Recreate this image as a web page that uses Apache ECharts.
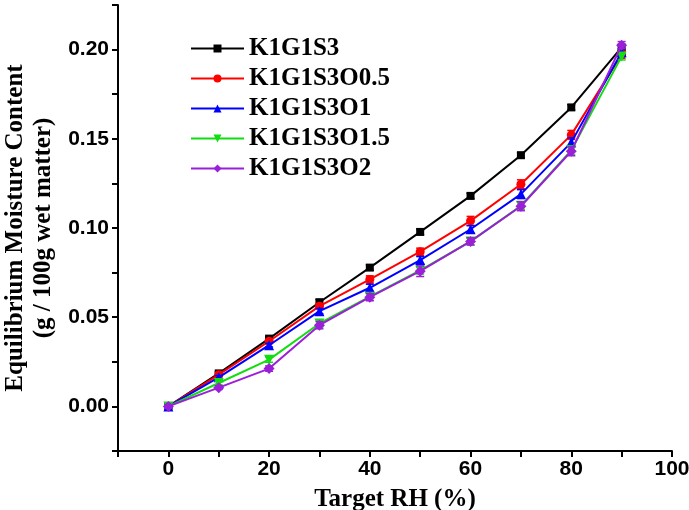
<!DOCTYPE html>
<html>
<head>
<meta charset="utf-8">
<script src="https://cdn.jsdelivr.net/npm/echarts@6/dist/echarts.min.js"></script>
<style>
  html, body { margin: 0; padding: 0; background: #fff; }
  #chart { width: 689px; height: 510px; }
</style>
</head>
<body>
<div id="chart"></div>
<script>
// target RH (%)
const rh = [0, 10, 20, 30, 40, 50, 60, 70, 80, 90];

const seriesNames = ["K1G1S3", "K1G1S3O0.5", "K1G1S3O1", "K1G1S3O1.5", "K1G1S3O2"];

// moisture content (g / 100g wet matter)
const k1g1s3 = [0, 0.0185, 0.0380, 0.0584, 0.0778, 0.0978, 0.1180, 0.1408, 0.1676, 0.2012];
const k1g1s3o05 = [0, 0.0178, 0.0365, 0.0562, 0.0712, 0.0867, 0.1040, 0.1245, 0.1522, 0.1972];
const k1g1s3o1 = [0, 0.0163, 0.0343, 0.0534, 0.0665, 0.0820, 0.0993, 0.1190, 0.1480, 0.1985];
const k1g1s3o15 = [0, 0.0131, 0.0262, 0.0465, 0.0615, 0.0762, 0.0925, 0.1125, 0.1435, 0.1962];
const k1g1s3o2 = [0, 0.0105, 0.0212, 0.0455, 0.0612, 0.0758, 0.0925, 0.1122, 0.1430, 0.2025];

// error bars (+/-)
const err1 = [0.001, 0.001, 0.001, 0.0015, 0.0015, 0.0015, 0.0015, 0.0015, 0.0015, 0.0015];
const err2 = [0.001, 0.001, 0.001, 0.0015, 0.002, 0.002, 0.0025, 0.0025, 0.0025, 0.002];
const err3 = [0.001, 0.001, 0.001, 0.0015, 0.002, 0.002, 0.002, 0.0025, 0.0025, 0.002];
const err4 = [0.001, 0.001, 0.0015, 0.002, 0.002, 0.002, 0.002, 0.002, 0.0025, 0.002];
const err5 = [0.001, 0.001, 0.0015, 0.002, 0.002, 0.003, 0.002, 0.0025, 0.0025, 0.002];

const colors = ["#000000", "#ff0000", "#0000ff", "#11dd11", "#9b1fd8"];
const symbols = ["rect", "circle", "triangle", "path://M0,0 L10,0 L5,9 Z", "diamond"];
const symbolSizes = [8, 9, 10, 10, 11];

const values = [k1g1s3, k1g1s3o05, k1g1s3o1, k1g1s3o15, k1g1s3o2];
const errors = [err1, err2, err3, err4, err5];

const serifBold = { fontFamily: "Liberation Serif", fontWeight: "bold", color: "#000" };
const sansBold = { fontFamily: "Liberation Sans", fontWeight: "bold", color: "#000", fontSize: 21 };

let series = [];
values.forEach((v, i) => {
  series.push({
    name: seriesNames[i],
    type: "line",
    data: rh.map((x, j) => [x, v[j]]),
    symbol: symbols[i],
    symbolSize: symbolSizes[i],
    lineStyle: { width: 2, color: colors[i] },
    itemStyle: { color: colors[i] },
    z: 3 + i,
  });
  // error bars
  series.push({
    type: "custom",
    name: seriesNames[i],
    data: rh.map((x, j) => [x, v[j] - errors[i][j], v[j] + errors[i][j]]),
    renderItem: function (params, api) {
      const lo = api.coord([api.value(0), api.value(1)]);
      const hi = api.coord([api.value(0), api.value(2)]);
      const w = 4;
      const st = { stroke: colors[i], lineWidth: 1.5 };
      return {
        type: "group",
        children: [
          { type: "line", shape: { x1: lo[0], y1: lo[1], x2: hi[0], y2: hi[1] }, style: st },
          { type: "line", shape: { x1: lo[0] - w, y1: lo[1], x2: lo[0] + w, y2: lo[1] }, style: st },
          { type: "line", shape: { x1: hi[0] - w, y1: hi[1], x2: hi[0] + w, y2: hi[1] }, style: st },
        ],
      };
    },
    z: 3 + i,
    silent: true,
  });
});

function isMultiple(v, step) {
  return Math.abs(Math.round(v / step) * step - v) < 1e-6;
}

const chart = echarts.init(document.getElementById("chart"));
chart.setOption({
  animation: false,
  grid: { left: 118, right: 17, top: 5, bottom: 59, outerBoundsMode: "none", containLabel: false },
  legend: {
    data: seriesNames,
    orient: "vertical",
    left: 185,
    top: 31,
    itemWidth: 53,
    itemHeight: 10,
    itemGap: 5,
    textStyle: Object.assign({ fontSize: 25, lineHeight: 22 }, serifBold),
  },
  xAxis: {
    type: "value",
    min: -10,
    max: 100,
    interval: 10,
    name: "Target RH (%)",
    nameLocation: "middle",
    nameGap: 36,
    nameTextStyle: Object.assign({ fontSize: 25 }, serifBold),
    axisLine: { onZero: false, lineStyle: { color: "#000", width: 2 } },
    axisTick: { length: 6, lineStyle: { color: "#000", width: 2 } },
    axisLabel: {
      margin: 8,
      ...sansBold,
      formatter: (v) => (isMultiple(v, 20) && v >= 0 ? String(v) : ""),
    },
    splitLine: { show: false },
  },
  yAxis: {
    type: "value",
    min: -0.025,
    max: 0.225,
    interval: 0.025,
    name: "Equilibrium Moisture Content\n(g / 100g wet matter)",
    nameLocation: "middle",
    nameGap: 55,
    nameTextStyle: Object.assign({ fontSize: 25, lineHeight: 28 }, serifBold),
    axisLine: { onZero: false, lineStyle: { color: "#000", width: 2 } },
    axisTick: { length: 6, lineStyle: { color: "#000", width: 2 } },
    axisLabel: {
      margin: 9,
      ...sansBold,
      formatter: (v) => (isMultiple(v, 0.05) && v > -0.01 ? v.toFixed(2) : ""),
    },
    splitLine: { show: false },
  },
  series: series,
});
</script>
</body>
</html>
